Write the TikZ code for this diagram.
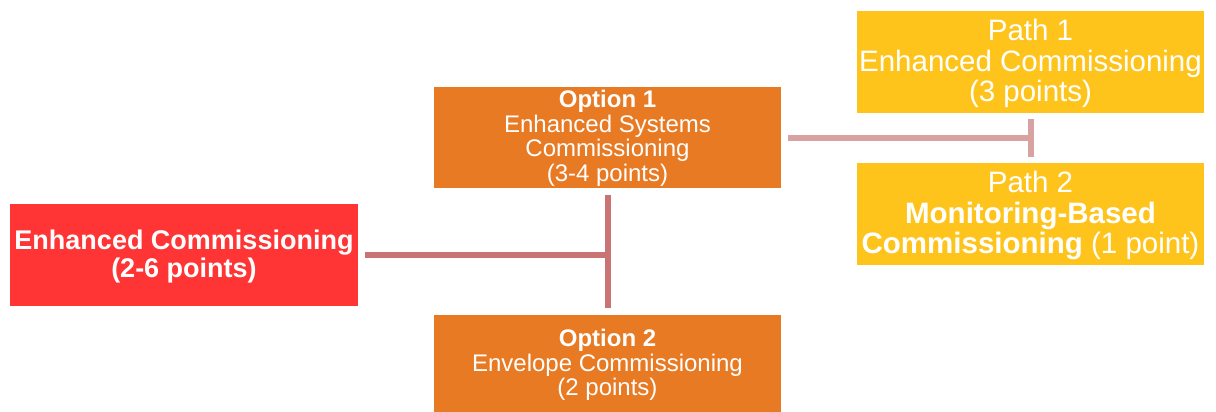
\documentclass[tikz,border=0pt]{standalone}
\usepackage{fontspec}
\setmainfont{Liberation Sans}
\definecolor{ecred}{HTML}{FF3535}
\definecolor{ecorange}{HTML}{E87A24}
\definecolor{ecyellow}{HTML}{FEC41C}
\definecolor{linkA}{HTML}{C87474}
\definecolor{linkB}{HTML}{D8A2A2}
\begin{document}
\begin{tikzpicture}[x=1pt,y=1pt,
  box/.style={draw=none, text=white, align=center, inner sep=0pt, minimum width=347, minimum height=101},
  fsmall/.style={font=\fontsize{24}{24.5}\selectfont},
  fmid/.style={font=\fontsize{27}{28}\selectfont},
  fbig/.style={font=\fontsize{29.5}{30.5}\selectfont},
  link/.style={line width=6pt}]
\useasboundingbox (0,0) rectangle (1216,-412);
\node[box, fill=ecred, fmid, minimum width=348, minimum height=102] (ec) at (184,-255) {};
\node[text=white, fmid, align=center, inner sep=0pt] at (184,-256.5)
  {\textbf{Enhanced Commissioning}\\\textbf{(2-6 points)}};
\node[box, fill=ecorange, fsmall] (opt1) at (607.5,-137.5) {};
\node[text=white, fsmall, align=center, inner sep=0pt] at (607.5,-138.5)
  {\textbf{Option 1}\\Enhanced Systems\\Commissioning\\(3-4 points)};
\node[box, fill=ecorange, fsmall, minimum height=97] (opt2) at (607.5,-363.5) {};
\node[text=white, fsmall, align=center, inner sep=0pt] at (607.5,-365)
  {\textbf{Option 2}\\Envelope Commissioning\\(2 points)};
\node[box, fill=ecyellow, fbig, minimum height=102] (p1) at (1030.5,-62) {};
\node[text=white, fbig, align=center, inner sep=0pt] at (1030.5,-63.5)
  {Path 1\\Enhanced Commissioning\\(3 points)};
\node[box, fill=ecyellow, fbig, minimum height=102] (p2) at (1030.5,-214) {};
\node[text=white, fbig, align=center, inner sep=0pt] at (1030.5,-215.5)
  {Path 2\\\textbf{Monitoring-Based}\\\textbf{Commissioning} (1 point)};
\coordinate (j1) at (608,-255);
\coordinate (j2) at (1031,-138);
\draw[link, linkA] ([xshift=7pt]ec.east) -- (j1);
\draw[link, linkA] ([yshift=-7pt]opt1.south -| j1) -- ([yshift=7pt]opt2.north -| j1);
\draw[link, linkB] ([xshift=7pt]opt1.east |- j2) -- (j2);
\draw[link, linkB] ([yshift=-6pt]p1.south -| j2) -- ([yshift=6pt]p2.north -| j2);
\end{tikzpicture}
\end{document}
